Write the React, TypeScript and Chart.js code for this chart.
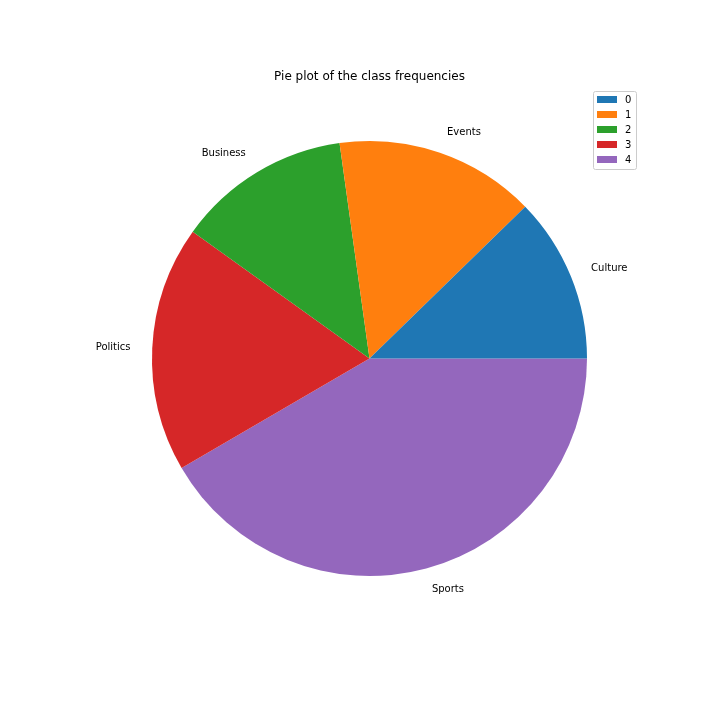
import React, { useEffect, useRef } from "react";
import { Chart, registerables } from "chart.js";

Chart.register(...registerables);

const categories = ["Culture", "Events", "Business", "Politics", "Sports"];
const legendLabels = ["0", "1", "2", "3", "4"];
const values = [12.3, 14.9, 12.9, 18.3, 41.6];
const colors = ["#1f77b4", "#ff7f0e", "#2ca02c", "#d62728", "#9467bd"];
const title = "Pie plot of the class frequencies";

const FONT = '10px "DejaVu Sans", sans-serif';
const TITLE_FONT = '12px "DejaVu Sans", sans-serif';

// Matplotlib draws counter-clockwise from 3 o'clock; Chart.js draws clockwise,
// so the order is reversed and started at 3 o'clock.
const order = [...categories.keys()].reverse();

const overlay = {
  id: "overlay",
  afterDatasetsDraw(chart: any) {
    const ctx = chart.ctx;
    const meta = chart.getDatasetMeta(0);
    ctx.save();
    ctx.fillStyle = "#000";
    ctx.font = FONT;
    ctx.textBaseline = "middle";
    meta.data.forEach((arc: any, i: number) => {
      const idx = order[i];
      const mid = (arc.startAngle + arc.endAngle) / 2;
      const r = arc.outerRadius * 1.1;
      const x = arc.x + Math.cos(mid) * r;
      const y = arc.y + Math.sin(mid) * r;
      ctx.textAlign = x > arc.x ? "left" : "right";
      ctx.fillText(categories[idx], x, y);
    });
    // title
    const cx = meta.data[0].x;
    const top = meta.data[0].y - meta.data[0].outerRadius;
    ctx.font = TITLE_FONT;
    ctx.textAlign = "center";
    ctx.textBaseline = "alphabetic";
    ctx.fillText(title, cx, top - 61);
    // legend
    const bx = 593.5, by = 91.5, bw = 43, bh = 78;
    ctx.fillStyle = "rgba(255,255,255,0.8)";
    ctx.strokeStyle = "#cccccc";
    ctx.lineWidth = 1;
    ctx.beginPath();
    (ctx as any).roundRect(bx, by, bw, bh, 2);
    ctx.fill();
    ctx.stroke();
    ctx.font = FONT;
    ctx.textAlign = "left";
    ctx.textBaseline = "middle";
    legendLabels.forEach((lab, i) => {
      const ry = 99.5 + i * 15;
      ctx.fillStyle = colors[i];
      ctx.fillRect(597, ry - 3.5, 20, 7);
      ctx.fillStyle = "#000";
      ctx.fillText(lab, 625, ry + 0.5);
    });
    ctx.restore();
  },
};

export default function App() {
  const ref = useRef<HTMLCanvasElement>(null);
  useEffect(() => {
    document.body.style.margin = "0";
    const chart = new Chart(ref.current as HTMLCanvasElement, {
      type: "pie",
      data: {
        labels: order.map((i) => categories[i]),
        datasets: [
          {
            data: order.map((i) => values[i]),
            backgroundColor: order.map((i) => colors[i]),
            borderWidth: 0,
          },
        ],
      },
      options: {
        animation: false,
        responsive: false,
        rotation: 90,
        layout: { padding: { left: 152, right: 133, top: 141, bottom: 144 } },
        plugins: {
          legend: { display: false },
          title: { display: false },
          tooltip: { enabled: false },
        },
      },
      plugins: [overlay],
    });
    return () => chart.destroy();
  }, []);
  return (
    <div style={{ position: "absolute", left: 0, top: 0, width: 720, height: 720, background: "#fff" }}>
      <canvas ref={ref} width={720} height={720} style={{ width: 720, height: 720 }} />
    </div>
  );
}
